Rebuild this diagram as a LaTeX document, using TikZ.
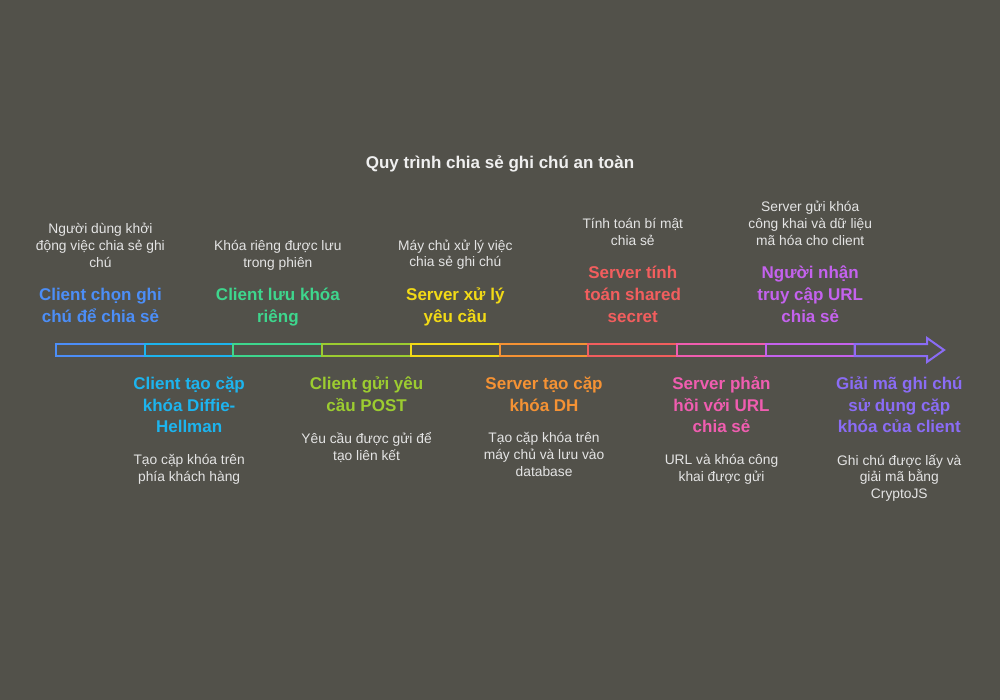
\documentclass[tikz,border=0pt]{standalone}
\usepackage{fontspec}
\setmainfont{Liberation Sans}
\usetikzlibrary{positioning}
\definecolor{grund}{HTML}{52514A}
\definecolor{schrift}{HTML}{E4E4E4}
\definecolor{kopfschrift}{HTML}{EFEFEF}
\definecolor{fa}{HTML}{4C8EF7}
\definecolor{fb}{HTML}{1DB4EE}
\definecolor{fc}{HTML}{3ED68D}
\definecolor{fd}{HTML}{9CCC30}
\definecolor{fe}{HTML}{F2DA16}
\definecolor{ff}{HTML}{F59234}
\definecolor{fg}{HTML}{F25E5E}
\definecolor{fh}{HTML}{F05DB0}
\definecolor{fi}{HTML}{C462EE}
\definecolor{fj}{HTML}{8A6CF5}

\begin{document}
\begin{tikzpicture}[x=1pt, y=-1pt,
        seg/.style={draw, line width=2pt, minimum width=88.73pt,
                    minimum height=12pt, inner sep=0pt, outer sep=0pt},
        ttl/.style={font=\fontsize{17pt}{21.7pt}\selectfont\bfseries,
                    align=center, inner sep=0pt,
                    execute at begin node=\strut, execute at end node=\strut},
        desc/.style={font=\fontsize{13.8pt}{16.8pt}\selectfont, text=schrift,
                     align=center, inner sep=0pt,
                     execute at begin node=\strut, execute at end node=\strut},
        node distance=0pt
      ]
      \fill[grund] (0,0) rectangle (1000,700);
      \node[font=\fontsize{17pt}{21.7pt}\selectfont\bfseries, text=kopfschrift,
            anchor=base] (kopf) at (500,168.3) {Quy trình chia sẻ ghi chú an toàn};

      % Balken von links nach rechts
      \node[seg, draw=fa] (s1) at (100.4,350) {};
      \node[seg, draw=fb, right=of s1] (s2) {};
      \node[seg, draw=fc, right=of s2] (s3) {};
      \node[seg, draw=fd, right=of s3] (s4) {};
      \node[seg, draw=fe, right=of s4] (s5) {};
      \node[seg, draw=ff, right=of s5] (s6) {};
      \node[seg, draw=fg, right=of s6] (s7) {};
      \node[seg, draw=fh, right=of s7] (s8) {};
      \node[seg, draw=fi, right=of s8] (s9) {};
      \coordinate[right=44.7pt of s9] (s10);

      % Pfeilspitze
      \draw[fj, line width=2pt] (s9.north east) -- ++(72.4,0) -- ++(0,-6)
        -- ++(17,12) -- ++(-17,12) -- ++(0,-6) -- (s9.south east) -- cycle;

      % Beschriftungen oben
      \node[ttl, text=fa, above=15pt of s1] (t1) {Client chọn ghi\\chú để chia sẻ};
      \node[ttl, text=fc, above=15pt of s3] (t3) {Client lưu khóa\\riêng};
      \node[ttl, text=fe, above=15pt of s5] (t5) {Server xử lý\\yêu cầu};
      \node[ttl, text=fg, above=15pt of s7] (t7) {Server tính\\toán shared\\secret};
      \node[ttl, text=fi, above=15pt of s9] (t9) {Người nhận\\truy cập URL\\chia sẻ};

      \node[desc, above=15.6pt of t1] (d1) {Người dùng khởi\\động việc chia sẻ ghi\\chú};
      \node[desc, above=15.6pt of t3] (d3) {Khóa riêng được lưu\\trong phiên};
      \node[desc, above=15.6pt of t5] (d5) {Máy chủ xử lý việc\\chia sẻ ghi chú};
      \node[desc, above=15.6pt of t7] (d7) {Tính toán bí mật\\chia sẻ};
      \node[desc, above=15.6pt of t9] (d9) {Server gửi khóa\\công khai và dữ liệu\\mã hóa cho client};

      % Beschriftungen unten
      \node[ttl, text=fb, below=20.6pt of s2] (t2) {Client tạo cặp\\khóa Diffie-\\Hellman};
      \node[ttl, text=fd, below=20.6pt of s4] (t4) {Client gửi yêu\\cầu POST};
      \node[ttl, text=ff, below=20.6pt of s6] (t6) {Server tạo cặp\\khóa DH};
      \node[ttl, text=fh, below=20.6pt of s8] (t8) {Server phản\\hồi với URL\\chia sẻ};
      \node[ttl, text=fj, below=26.6pt of s10] (t10) {Giải mã ghi chú\\sử dụng cặp\\khóa của client};

      \node[desc, below=14.6pt of t2] (d2) {Tạo cặp khóa trên\\phía khách hàng};
      \node[desc, below=14.6pt of t4] (d4) {Yêu cầu được gửi để\\tạo liên kết};
      \node[desc, below=14.6pt of t6] (d6) {Tạo cặp khóa trên\\máy chủ và lưu vào\\database};
      \node[desc, below=14.6pt of t8] (d8) {URL và khóa công\\khai được gửi};
      \node[desc, below=14.6pt of t10] (d10) {Ghi chú được lấy và\\giải mã bằng\\CryptoJS};
    \end{tikzpicture}
\end{document}
